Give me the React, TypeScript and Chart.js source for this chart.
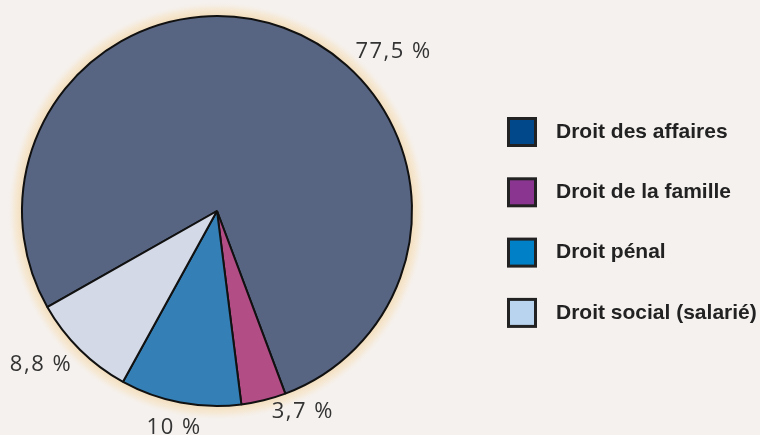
import React, { useEffect, useRef } from "react";
import { Chart, registerables } from "chart.js";

Chart.register(...registerables);

const categories = ["Droit des affaires", "Droit de la famille", "Droit pénal", "Droit social (salarié)"];
const shares = [77.5, 3.7, 10, 8.8];
const valueLabels = ["77,5 %", "3,7 %", "10 %", "8,8 %"];
const sliceColors = ["#576583", "#b24d85", "#337fb6", "#d3d9e6"];
const legendColors = ["#00488a", "#8a3590", "#0080c6", "#b9d4ee"];

const BG = "#f5f1ee";

const backgroundPlugin = {
  id: "bgPlugin",
  beforeDraw(chart: any) {
    const ctx = chart.ctx;
    ctx.save();
    ctx.fillStyle = BG;
    ctx.fillRect(0, 0, chart.width, chart.height);
    const meta = chart.getDatasetMeta(0);
    const arc = meta.data[0] as any;
    if (arc) {
      const { x, y, outerRadius } = arc.getProps(["x", "y", "outerRadius"], true);
      const g = ctx.createRadialGradient(x, y, outerRadius - 2, x, y, outerRadius + 15);
      g.addColorStop(0, "rgba(242,216,176,0.95)");
      g.addColorStop(0.55, "rgba(246,230,204,0.7)");
      g.addColorStop(1, "rgba(245,241,238,0)");
      ctx.fillStyle = g;
      ctx.beginPath();
      ctx.arc(x, y, outerRadius + 15, 0, Math.PI * 2);
      ctx.fill();
    }
    ctx.restore();
  },
};

const labelPlugin = {
  id: "sliceLabels",
  afterDatasetsDraw(chart: any, _args: any, opts: any) {
    const ctx = chart.ctx;
    const meta = chart.getDatasetMeta(0);
    ctx.save();
    ctx.font = "22px 'Open Sans', sans-serif";
    (ctx as any).letterSpacing = "1.5px";
    ctx.fillStyle = "#333333";
    ctx.textAlign = "center";
    ctx.textBaseline = "middle";
    meta.data.forEach((el: any, i: number) => {
      const p = el.getProps(["x", "y", "startAngle", "endAngle", "outerRadius"], true);
      const frac = opts.fractions[i];
      const dist = opts.distances[i];
      const a = p.startAngle + frac * (p.endAngle - p.startAngle);
      const r = p.outerRadius + dist;
      ctx.fillText(valueLabels[i], p.x + Math.cos(a) * r, p.y + Math.sin(a) * r);
    });
    ctx.restore();
  },
};

const legendPlugin = {
  id: "sideLegend",
  afterDraw(chart: any, _args: any, opts: any) {
    const ctx = chart.ctx;
    ctx.save();
    categories.forEach((label, i) => {
      const top = opts.top + i * opts.step;
      ctx.fillStyle = "#222222";
      ctx.fillRect(opts.left, top, opts.box, opts.box);
      ctx.fillStyle = legendColors[i];
      ctx.fillRect(opts.left + 3, top + 3, opts.box - 6, opts.box - 6);
      ctx.fillStyle = "#222222";
      ctx.font = "bold 21px 'Liberation Sans', Arial, sans-serif";
      (ctx as any).letterSpacing = "0px";
      ctx.textAlign = "left";
      ctx.textBaseline = "middle";
      ctx.fillText(label, opts.textX, top + opts.box / 2);
    });
    ctx.restore();
  },
};

export default function App() {
  const ref = useRef<HTMLCanvasElement | null>(null);
  useEffect(() => {
    if (!ref.current) return;
    const chart = new Chart(ref.current, {
      type: "pie",
      data: {
        labels: categories,
        datasets: [
          {
            data: shares,
            backgroundColor: sliceColors,
            borderColor: "#111111",
            borderWidth: 2,
          },
        ],
      },
      options: {
        responsive: false,
        animation: false,
        rotation: -119.5,
        layout: { padding: { left: 21, top: 15, right: 347, bottom: 28 } },
        plugins: {
          legend: { display: false },
          tooltip: { enabled: false },
          sliceLabels: {
            fractions: [0.6, -0.2, 0.51, 0.63],
            distances: [43, 23, 26, 39],
          },
          sideLegend: { left: 507, top: 117, step: 60.3, box: 30, textX: 556 },
        } as any,
      },
      plugins: [backgroundPlugin, labelPlugin, legendPlugin],
    });
    return () => chart.destroy();
  }, []);
  return (
    <div style={{ position: "absolute", left: 0, top: 0, width: 760, height: 435, background: BG }}>
      <canvas ref={ref} width={760} height={435} style={{ display: "block" }} />
    </div>
  );
}
